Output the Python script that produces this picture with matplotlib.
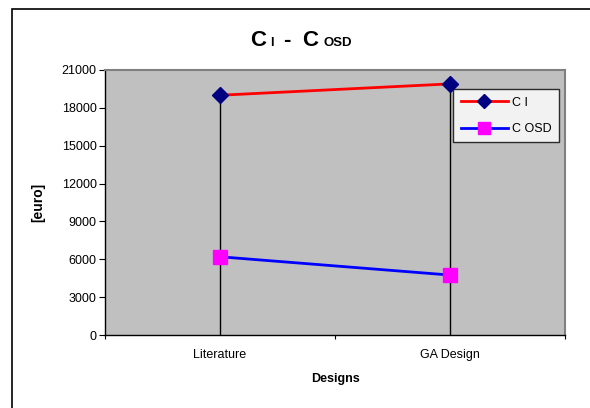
"""C_I and C_OSD cost for the two designs"""
import numpy as np
import matplotlib
matplotlib.use("Agg")
from matplotlib import pyplot as plt
from matplotlib.patches import Rectangle

designs = ["Literature", "GA Design"]
c_i = [19000, 19900]
c_osd = [6200, 4750]
y_ticks = [0, 3000, 6000, 9000, 12000, 15000, 18000, 21000]

plt.rcParams['font.family'] = ['Liberation Sans', 'DejaVu Sans']

fig = plt.figure(figsize=(5.9, 4.08), dpi=100)
# outer chart frame, runs off the right and bottom edge like the original
fig.patches.append(Rectangle((12/590, -0.05), 1.1, 1 - 9/408 + 0.05,
                             transform=fig.transFigure, fill=False,
                             edgecolor="black", linewidth=1.2))

ax = fig.add_axes([105/590, 1 - 335/408, 460/590, 265/408])
ax.set_facecolor("#c0c0c0")

x = np.arange(len(designs)) + 0.5

# drop lines from the highest point down to zero
tops = np.maximum(c_i, c_osd)
ax.vlines(x, 0, tops, colors="black", linewidth=1, zorder=1)

ax.plot(x, c_i, color="red", linewidth=2, marker="D", markersize=8,
        markerfacecolor="#000080", markeredgecolor="#000080", label="C I", zorder=3)
ax.plot(x, c_osd, color="blue", linewidth=2, marker="s", markersize=10,
        markerfacecolor="magenta", markeredgecolor="magenta", label="C OSD", zorder=3)

ax.set_xlim(0, len(designs))
ax.set_ylim(0, 21000)
ax.set_yticks(y_ticks)
ax.set_yticklabels([str(v) for v in y_ticks], fontsize=9)
ax.set_xticks(np.arange(len(designs) + 1))
ax.set_xticklabels([])
ax.set_xticks(x, minor=True)
ax.set_xticklabels(designs, minor=True, fontsize=9)
ax.tick_params(axis="x", which="minor", length=0, pad=10)
ax.tick_params(axis="x", which="major", length=3, direction="out")
ax.tick_params(axis="y", length=4, direction="out", pad=2)

for s in ["top", "right"]:
    ax.spines[s].set_color("#808080")
    ax.spines[s].set_linewidth(1.5)
for s in ["left", "bottom"]:
    ax.spines[s].set_color("black")
    ax.spines[s].set_linewidth(1)

ax.set_xlabel("Designs", fontsize=9, fontweight="bold", labelpad=9)
ax.set_ylabel("[euro]", fontsize=10, fontweight="bold", labelpad=12)

leg = ax.legend(loc="upper left", bbox_to_anchor=((453 - 105)/460, 1 - 19/265),
                fontsize=9, frameon=True, fancybox=False, borderpad=0.6,
                handlelength=3.8, labelspacing=1.15, handletextpad=0.3,
                borderaxespad=0, markerscale=0.85)
leg.get_frame().set_edgecolor("black")
leg.get_frame().set_facecolor("white")
leg.get_frame().set_linewidth(1)
leg.set_zorder(5)

# title with small subscripts sitting on the baseline
ty = 1 - 46/408
fig.text(250/590, ty, "C", fontsize=16, fontweight="bold", ha="left", va="baseline")
fig.text(270/590, ty, "I", fontsize=9, fontweight="bold", ha="left", va="baseline")
fig.text(283/590, ty, "-", fontsize=16, fontweight="bold", ha="left", va="baseline")
fig.text(302/590, ty, "C", fontsize=16, fontweight="bold", ha="left", va="baseline")
fig.text(324/590, ty, "OSD", fontsize=9.5, fontweight="bold", ha="left", va="baseline")

fig.savefig("out.png", dpi=100)
